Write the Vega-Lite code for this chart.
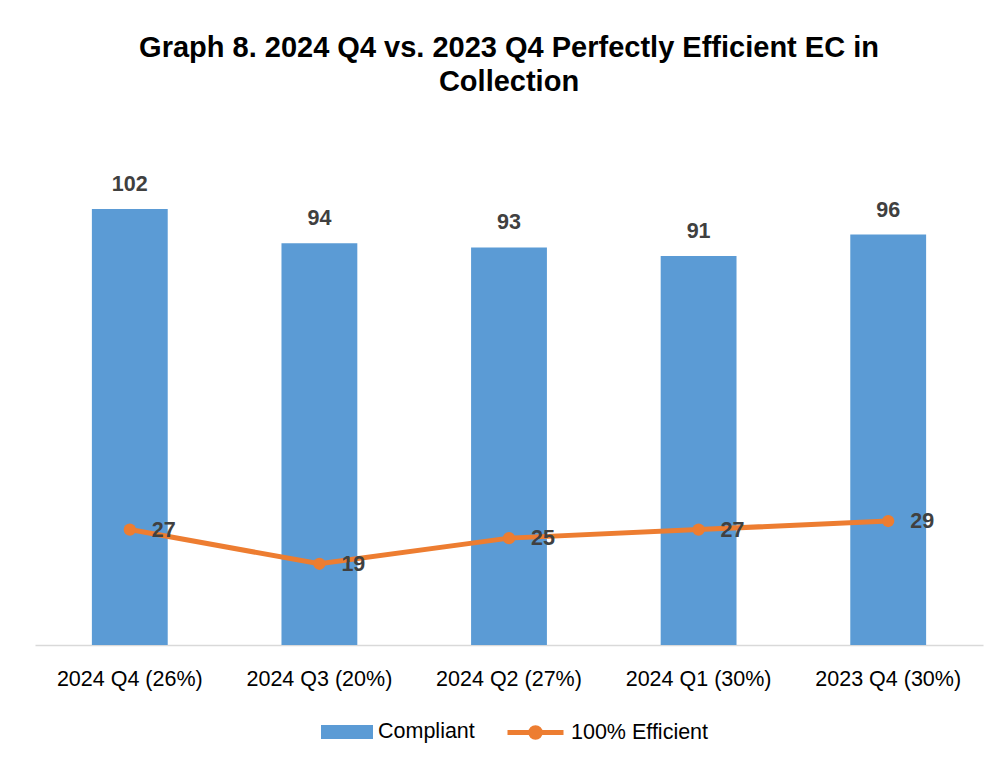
{
  "$schema": "https://vega.github.io/schema/vega-lite/v6.json",
  "width": 948,
  "height": 513,
  "autosize": {"type": "none"},
  "padding": {"left": 35, "top": 132, "right": 16, "bottom": 115},
  "background": "white",
  "title": {
    "text": ["Graph 8. 2024 Q4 vs. 2023 Q4 Perfectly Efficient EC in", "Collection"],
    "font": "Liberation Sans",
    "fontSize": 29,
    "fontWeight": "bold",
    "color": "#000000",
    "lineHeight": 34,
    "anchor": "middle",
    "offset": 35
  },
  "data": {
    "values": [
      {"period": "2024 Q4 (26%)", "compliant": 102, "efficient": 27},
      {"period": "2024 Q3 (20%)", "compliant": 94, "efficient": 19},
      {"period": "2024 Q2 (27%)", "compliant": 93, "efficient": 25},
      {"period": "2024 Q1 (30%)", "compliant": 91, "efficient": 27},
      {"period": "2023 Q4 (30%)", "compliant": 96, "efficient": 29}
    ]
  },
  "encoding": {
    "x": {
      "field": "period",
      "type": "nominal",
      "sort": null,
      "scale": {"paddingInner": 0.6, "paddingOuter": 0.3},
      "axis": {
        "title": null,
        "labelAngle": 0,
        "ticks": false,
        "grid": false,
        "domainColor": "#D9D9D9",
        "domainWidth": 1.5,
        "labelFont": "Liberation Sans",
        "labelFontSize": 21.5,
        "labelColor": "#000000",
        "labelPadding": 23
      }
    }
  },
  "layer": [
    {
      "mark": {"type": "bar"},
      "encoding": {
        "y": {"field": "compliant", "type": "quantitative", "scale": {"domain": [0, 120]}, "axis": null},
        "fill": {
          "datum": "Compliant",
          "scale": {"range": ["#5B9BD5"]},
          "legend": {
            "orient": "none",
            "legendX": 286,
            "legendY": 574,
            "title": null,
            "symbolType": "M-1,-0.27H1V0.27H-1Z",
            "symbolSize": 2704,
            "symbolStrokeWidth": 0,
            "labelFont": "Liberation Sans",
            "labelFontSize": 21.5,
            "labelColor": "#000000",
            "labelOffset": 5,
            "padding": 0
          }
        }
      }
    },
    {
      "mark": {"type": "text", "font": "Liberation Sans", "fontSize": 21.5, "fontWeight": "bold", "color": "#404040", "align": "center", "baseline": "alphabetic", "dy": -18},
      "encoding": {
        "y": {"field": "compliant", "type": "quantitative"},
        "text": {"field": "compliant", "type": "quantitative"}
      }
    },
    {
      "mark": {"type": "line", "strokeWidth": 5},
      "encoding": {
        "y": {"field": "efficient", "type": "quantitative"},
        "stroke": {
          "datum": "100% Efficient",
          "scale": {"range": ["#ED7D31"]},
          "legend": {
            "orient": "none",
            "legendX": 470,
            "legendY": 570,
            "title": null,
            "symbolType": "M-1,0H1M0.17,0A0.17,0.17,0,1,1,-0.17,0A0.17,0.17,0,1,1,0.17,0Z",
            "symbolSize": 3136,
            "symbolStrokeWidth": 5,
            "symbolFillColor": "#ED7D31",
            "labelFont": "Liberation Sans",
            "labelFontSize": 21.5,
            "labelColor": "#000000",
            "labelOffset": 5,
            "padding": 0,
            "encode": {"symbols": {"update": {"fill": {"value": "#ED7D31"}, "stroke": {"value": "#ED7D31"}}}}
          }
        }
      }
    },
    {
      "mark": {"type": "point", "filled": true, "size": 150, "color": "#ED7D31", "opacity": 1},
      "encoding": {
        "y": {"field": "efficient", "type": "quantitative"}
      }
    },
    {
      "mark": {"type": "text", "font": "Liberation Sans", "fontSize": 21.5, "fontWeight": "bold", "color": "#404040", "align": "left", "baseline": "middle", "dx": 22, "dy": 1},
      "encoding": {
        "y": {"field": "efficient", "type": "quantitative"},
        "text": {"field": "efficient", "type": "quantitative"}
      }
    }
  ],
  "resolve": {"scale": {"fill": "independent", "stroke": "independent"}},
  "config": {"view": {"stroke": null}}
}
